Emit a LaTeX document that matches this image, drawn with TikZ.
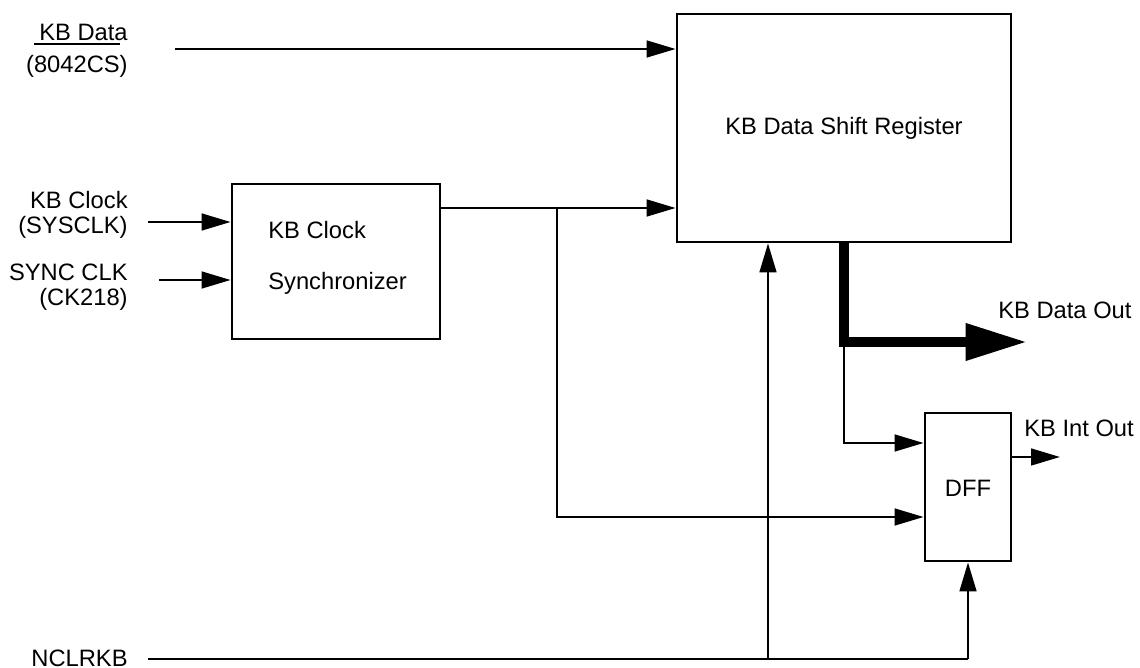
\documentclass[tikz,border=0pt]{standalone}
\usepackage{fontspec}
\setmainfont{Liberation Sans}
\usetikzlibrary{arrows.meta}
% active-low signal name, bar drawn high above the text
\newcommand{\lowsig}[1]{\setbox0\hbox{#1}\rlap{\smash{\raisebox{15.6pt}{\rule{\wd0}{1.1pt}}}}\box0}
\tikzset{
  wire/.style={line width=1.4pt},
  sig/.style={wire, -{Triangle[length=16.5pt,width=9.5pt]}},
  bus/.style={line width=5.6pt, -{Triangle[length=35pt,width=20pt]}},
  block/.style={draw, line width=1.6pt, inner sep=0pt},
  lbl/.style={font=\fontsize{13.5}{14.2}\selectfont, inner sep=0pt}
}
\begin{document}
\begin{tikzpicture}[x=0.02cm, y=-0.02cm]
            \useasboundingbox (0,0) rectangle (1140,668);

            % blocks
            \node[block, minimum width=6.68cm, minimum height=4.56cm] (sreg) at (844,128) {};
            \node[lbl] (sregtxt) at (844,128) {KB Data Shift Register};
            \node[block, minimum width=4.16cm, minimum height=3.1cm] (sync) at (336,261.5) {};
            \node[lbl, anchor=west] (synca) at (268,230) {KB Clock};
            \node[lbl, anchor=west] (syncb) at (268,283) {Synchronizer};
            \node[block, minimum width=1.72cm, minimum height=2.96cm] (dff) at (968,487) {};
            \node[lbl] (dfftxt) at (968,488) {DFF};

            % labels
            \node[lbl, anchor=east, align=right] (kbdl) at (128,51) {KB Data\\[3.8pt](\lowsig{8042CS})};
            \node[lbl, anchor=east, align=right] (kbcl) at (128,215) {KB Clock\\(SYSCLK)};
            \node[lbl, anchor=east, align=right] (sckl) at (128,287) {SYNC CLK\\(CK218)};
            \node[lbl, anchor=east] (nclrl) at (128,658) {NCLRKB};
            \node[lbl, anchor=west] (doutl) at (998,310) {KB Data Out};
            \node[lbl, anchor=west] (intl) at (1024,428) {KB Int Out};

            % coordinates
            \coordinate (kbd) at (175,49);
            \coordinate (kbc) at (148,222);
            \coordinate (sck) at (159,280);
            \coordinate (syo) at (sync.east |- 0,208);
            \coordinate (br) at (557,208);
            \coordinate (tap) at (844,342);
            \coordinate (dout) at (1027,342);
            \coordinate (iout) at (1060,457);
            \coordinate (nclr) at (148,659);
            \coordinate (nclra) at (768,659);
            \coordinate (nclrb) at (968,659);

            % connectors
            \draw[sig] (kbd) -- (sreg.west |- kbd);
            \draw[sig] (kbc) -- (sync.west |- kbc);
            \draw[sig] (sck) -- (sync.west |- sck);
            \draw[sig] (syo) -- (sreg.west |- syo);
            \draw[sig] (br) |- (dff.west |- 0,517);
            \draw[bus] (sreg.south -| tap) |- (dout);
            \draw[sig] (tap) |- (dff.west |- 0,443);
            \draw[sig] (dff.east |- iout) -- (iout);
            \draw[wire] (nclr) -- (nclrb);
            \draw[sig] (nclra) -- (sreg.south -| nclra);
            \draw[sig] (nclrb) -- (dff.south);
        \end{tikzpicture}
\end{document}
